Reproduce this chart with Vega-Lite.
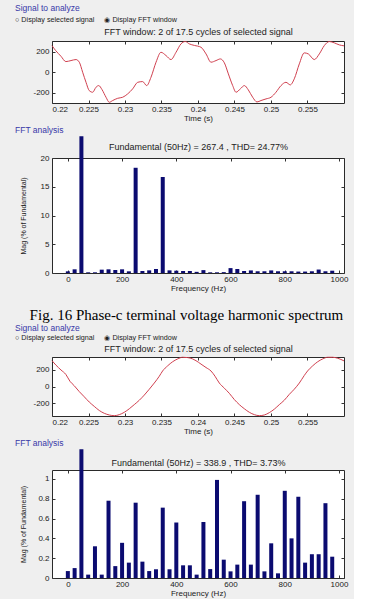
{
  "$schema": "https://vega.github.io/schema/vega-lite/v6.json",
  "background": "#efefef",
  "padding": {"left": 14, "top": 3, "right": 5, "bottom": 2},
  "config": {
    "font": "Liberation Sans",
    "view": {"stroke": "#2a2a2a", "fill": "white", "strokeWidth": 1},
    "axis": {"labelFontSize": 8, "labelColor": "#222", "titleColor": "#222", "tickColor": "#333", "titleFontWeight": "normal", "titleFontSize": 8, "grid": false, "domain": false, "tickSize": -3, "labelPadding": 3},
    "axisX": {"labelPadding": 5},
    "axisY": {"labelPadding": 6},
    "title": {"fontWeight": "normal"}
  },
  "datasets": {
    "sig1": [
      {"t": 0.22, "v": 260}, {"t": 0.2205, "v": 212}, {"t": 0.22123, "v": 156}, {"t": 0.2219, "v": 104}, {"t": 0.2226, "v": 114}, {"t": 0.22329, "v": 124}, {"t": 0.22374, "v": 98}, {"t": 0.2242, "v": 0}, {"t": 0.22466, "v": -98}, {"t": 0.2251, "v": -179}, {"t": 0.22557, "v": -195}, {"t": 0.22603, "v": -146}, {"t": 0.2264, "v": -130}, {"t": 0.22685, "v": -169}, {"t": 0.2274, "v": -244}, {"t": 0.22785, "v": -293}, {"t": 0.22831, "v": -276}, {"t": 0.229, "v": -254}, {"t": 0.22968, "v": -244}, {"t": 0.23037, "v": -211}, {"t": 0.23105, "v": -162}, {"t": 0.23174, "v": -98}, {"t": 0.23242, "v": -91}, {"t": 0.23297, "v": -130}, {"t": 0.23356, "v": -49}, {"t": 0.23425, "v": 98}, {"t": 0.23493, "v": 195}, {"t": 0.23562, "v": 163}, {"t": 0.2363, "v": 124}, {"t": 0.23699, "v": 195}, {"t": 0.23767, "v": 277}, {"t": 0.23826, "v": 300}, {"t": 0.2388, "v": 277}, {"t": 0.2395, "v": 262}, {"t": 0.24041, "v": 244}, {"t": 0.2411, "v": 179}, {"t": 0.24178, "v": 98}, {"t": 0.24247, "v": 114}, {"t": 0.24306, "v": 130}, {"t": 0.24361, "v": 92}, {"t": 0.24416, "v": -16}, {"t": 0.24475, "v": -130}, {"t": 0.24521, "v": -195}, {"t": 0.2458, "v": -162}, {"t": 0.24635, "v": -130}, {"t": 0.24689, "v": -172}, {"t": 0.24749, "v": -244}, {"t": 0.24808, "v": -290}, {"t": 0.24863, "v": -276}, {"t": 0.24932, "v": -260}, {"t": 0.25, "v": -244}, {"t": 0.25068, "v": -195}, {"t": 0.25137, "v": -130}, {"t": 0.25205, "v": -98}, {"t": 0.25264, "v": -123}, {"t": 0.25319, "v": -64}, {"t": 0.25388, "v": 82}, {"t": 0.25456, "v": 189}, {"t": 0.25511, "v": 179}, {"t": 0.25593, "v": 124}, {"t": 0.25662, "v": 179}, {"t": 0.2573, "v": 260}, {"t": 0.25799, "v": 300}, {"t": 0.25867, "v": 287}, {"t": 0.25936, "v": 267}, {"t": 0.26, "v": 258}
    ],
    "sig2": [
      {"t": 0.22, "v": 306}, {"t": 0.22055, "v": 253}, {"t": 0.22123, "v": 196}, {"t": 0.2219, "v": 143}, {"t": 0.22247, "v": 61}, {"t": 0.22305, "v": 9}, {"t": 0.22374, "v": -61}, {"t": 0.22442, "v": -122}, {"t": 0.2251, "v": -184}, {"t": 0.22579, "v": -236}, {"t": 0.22648, "v": -285}, {"t": 0.22716, "v": -318}, {"t": 0.22785, "v": -338}, {"t": 0.22853, "v": -346}, {"t": 0.22922, "v": -334}, {"t": 0.2299, "v": -306}, {"t": 0.23059, "v": -264}, {"t": 0.23127, "v": -215}, {"t": 0.23196, "v": -163}, {"t": 0.23264, "v": -102}, {"t": 0.23333, "v": -32}, {"t": 0.23401, "v": 41}, {"t": 0.2347, "v": 122}, {"t": 0.23515, "v": 184}, {"t": 0.23584, "v": 245}, {"t": 0.23653, "v": 294}, {"t": 0.23721, "v": 327}, {"t": 0.2379, "v": 347}, {"t": 0.23858, "v": 343}, {"t": 0.23927, "v": 327}, {"t": 0.23973, "v": 306}, {"t": 0.24041, "v": 266}, {"t": 0.2411, "v": 225}, {"t": 0.24178, "v": 184}, {"t": 0.24233, "v": 122}, {"t": 0.24292, "v": 41}, {"t": 0.24361, "v": -20}, {"t": 0.24429, "v": -81}, {"t": 0.24497, "v": -154}, {"t": 0.24566, "v": -215}, {"t": 0.24635, "v": -264}, {"t": 0.24703, "v": -306}, {"t": 0.24772, "v": -334}, {"t": 0.2484, "v": -346}, {"t": 0.24908, "v": -338}, {"t": 0.24977, "v": -310}, {"t": 0.25045, "v": -269}, {"t": 0.25114, "v": -215}, {"t": 0.25182, "v": -163}, {"t": 0.25251, "v": -93}, {"t": 0.25319, "v": -32}, {"t": 0.25388, "v": 41}, {"t": 0.25456, "v": 131}, {"t": 0.25501, "v": 184}, {"t": 0.25571, "v": 245}, {"t": 0.2564, "v": 294}, {"t": 0.25708, "v": 327}, {"t": 0.25777, "v": 347}, {"t": 0.25845, "v": 347}, {"t": 0.25914, "v": 335}, {"t": 0.26, "v": 304}
    ],
    "fft1": [
      {"f": 0, "m": 0.29}, {"f": 25, "m": 0.64}, {"f": 50, "m": 23.8}, {"f": 75, "m": 0.12}, {"f": 100, "m": 0.12}, {"f": 125, "m": 0.58}, {"f": 150, "m": 0.64}, {"f": 175, "m": 0.52}, {"f": 200, "m": 0.64}, {"f": 225, "m": 0.29}, {"f": 250, "m": 18.3}, {"f": 275, "m": 0.35}, {"f": 300, "m": 0.46}, {"f": 325, "m": 0.7}, {"f": 350, "m": 16.7}, {"f": 375, "m": 0.46}, {"f": 400, "m": 0.4}, {"f": 425, "m": 0.35}, {"f": 450, "m": 0.35}, {"f": 475, "m": 0.2}, {"f": 500, "m": 0.5}, {"f": 525, "m": 0.12}, {"f": 550, "m": 0.12}, {"f": 575, "m": 0.15}, {"f": 600, "m": 0.85}, {"f": 625, "m": 0.7}, {"f": 650, "m": 0.35}, {"f": 675, "m": 0.45}, {"f": 700, "m": 0.3}, {"f": 725, "m": 0.3}, {"f": 750, "m": 0.45}, {"f": 775, "m": 0.3}, {"f": 800, "m": 0.3}, {"f": 825, "m": 0.3}, {"f": 850, "m": 0.25}, {"f": 875, "m": 0.25}, {"f": 900, "m": 0.3}, {"f": 925, "m": 0.6}, {"f": 950, "m": 0.3}, {"f": 975, "m": 0.4}
    ],
    "fft2": [
      {"f": 0, "m": 0.07}, {"f": 25, "m": 0.1}, {"f": 50, "m": 1.3}, {"f": 75, "m": 0.034}, {"f": 100, "m": 0.32}, {"f": 125, "m": 0.034}, {"f": 150, "m": 0.78}, {"f": 175, "m": 0.12}, {"f": 200, "m": 0.355}, {"f": 225, "m": 0.155}, {"f": 250, "m": 0.76}, {"f": 275, "m": 0.165}, {"f": 300, "m": 0.07}, {"f": 325, "m": 0.088}, {"f": 350, "m": 0.71}, {"f": 375, "m": 0.088}, {"f": 400, "m": 0.56}, {"f": 425, "m": 0.128}, {"f": 450, "m": 0.128}, {"f": 475, "m": 0.034}, {"f": 500, "m": 0.565}, {"f": 525, "m": 0.09}, {"f": 550, "m": 0.99}, {"f": 575, "m": 0.185}, {"f": 600, "m": 0.067}, {"f": 625, "m": 0.135}, {"f": 650, "m": 0.775}, {"f": 675, "m": 0.135}, {"f": 700, "m": 0.84}, {"f": 725, "m": 0.067}, {"f": 750, "m": 0.35}, {"f": 775, "m": 0.047}, {"f": 800, "m": 0.88}, {"f": 825, "m": 0.4}, {"f": 850, "m": 0.82}, {"f": 875, "m": 0.155}, {"f": 900, "m": 0.24}, {"f": 925, "m": 0.24}, {"f": 950, "m": 0.755}, {"f": 975, "m": 0.215}
    ]
  },
  "spacing": 15,
  "vconcat": [
    {
      "spacing": 2,
      "vconcat": [
        {
          "width": 292, "height": 62,
          "data": {"name": "sig1"},
          "title": {"text": "\u00a0\u00a0\u00a0\u00a0\u00a0Signal to analyze", "subtitle": "\u25cb Display selected signal\u00a0\u00a0\u00a0\u00a0\u00a0\u25c9 Display FFT window", "anchor": "start", "frame": "bounds", "fontSize": 8.5, "color": "#3838a8", "subtitleFontSize": 7.2, "subtitleColor": "#222", "subtitlePadding": 4, "offset": 4, "dx": -4},
          "layer": [
            {
              "mark": {"type": "line", "color": "#d0404f", "strokeWidth": 1, "interpolate": "monotone"},
              "encoding": {
                "x": {"field": "t", "type": "quantitative", "scale": {"domain": [0.22, 0.26], "nice": false, "zero": false}, "axis": {"values": [0.22, 0.225, 0.23, 0.235, 0.24, 0.245, 0.25, 0.255], "format": ".3~f", "title": "Time (s)", "titlePadding": 1}},
                "y": {"field": "v", "type": "quantitative", "scale": {"domain": [-300, 305], "nice": false, "zero": false}, "axis": {"values": [-200, 0, 200], "labelExpr": "datum.value < 0 ? '-' + abs(datum.value) : '' + datum.value", "title": "\u00a0", "titleFontSize": 7, "minExtent": 22, "titlePadding": 4}}
              }
            },
            {
              "transform": [{"filter": "false"}],
              "mark": {"type": "line"},
              "encoding": {
                "x": {"field": "t", "type": "quantitative", "axis": {"orient": "top", "labels": false, "values": [0.22, 0.225, 0.23, 0.235, 0.24, 0.245, 0.25, 0.255], "title": "FFT window: 2 of 17.5 cycles of selected signal", "titleFontSize": 9, "titlePadding": 4}},
                "y": {"field": "v", "type": "quantitative", "axis": {"orient": "right", "labels": false, "values": [-200, 0, 200], "title": null}}
              }
            }
          ],
          "resolve": {"axis": {"x": "independent", "y": "independent"}}
        },
        {
          "width": 292, "height": 115,
          "data": {"name": "fft1"},
          "title": {"text": "FFT analysis", "anchor": "start", "frame": "bounds", "fontSize": 8.5, "color": "#3838a8", "offset": 2, "dx": -4},
          "layer": [
            {
              "mark": {"type": "bar", "color": "#0b0b70", "size": 4, "clip": false},
              "encoding": {
                "x": {"field": "f", "type": "quantitative", "scale": {"domain": [-40, 1000], "nice": false, "zero": false}, "axis": {"values": [0, 200, 400, 600, 800, 1000], "format": "d", "title": "Frequency (Hz)", "titlePadding": 1}},
                "y": {"field": "m", "type": "quantitative", "scale": {"domain": [0, 20], "nice": false}, "axis": {"values": [0, 5, 10, 15, 20], "title": "Mag (% of Fundamental)", "titleFontSize": 7, "minExtent": 22, "titlePadding": 4}}
              }
            },
            {
              "transform": [{"filter": "false"}],
              "mark": {"type": "bar"},
              "encoding": {
                "x": {"field": "f", "type": "quantitative", "axis": {"orient": "top", "labels": false, "values": [0, 200, 400, 600, 800, 1000], "title": "Fundamental (50Hz) = 267.4 , THD= 24.77%", "titleFontSize": 9, "titlePadding": 6}},
                "y": {"field": "m", "type": "quantitative", "axis": {"orient": "right", "labels": false, "values": [0, 5, 10, 15, 20], "title": null}}
              }
            }
          ],
          "resolve": {"axis": {"x": "independent", "y": "independent"}}
        }
      ]
    },
    {
      "spacing": 2,
      "title": {"text": "Fig. 16 Phase-c terminal voltage harmonic spectrum", "font": "Liberation Serif", "fontSize": 15, "color": "#000", "anchor": "middle", "frame": "bounds", "offset": 0, "dx": 5},
      "vconcat": [
        {
          "width": 292, "height": 59,
          "data": {"name": "sig2"},
          "title": {"text": "\u00a0\u00a0\u00a0\u00a0\u00a0Signal to analyze", "subtitle": "\u25cb Display selected signal\u00a0\u00a0\u00a0\u00a0\u00a0\u25c9 Display FFT window", "anchor": "start", "frame": "bounds", "fontSize": 8.5, "color": "#3838a8", "subtitleFontSize": 7.2, "subtitleColor": "#222", "subtitlePadding": 2, "offset": 3, "dx": -4},
          "layer": [
            {
              "mark": {"type": "line", "color": "#d0404f", "strokeWidth": 1, "interpolate": "monotone"},
              "encoding": {
                "x": {"field": "t", "type": "quantitative", "scale": {"domain": [0.22, 0.26], "nice": false, "zero": false}, "axis": {"values": [0.22, 0.225, 0.23, 0.235, 0.24, 0.245, 0.25, 0.255], "format": ".3~f", "title": "Time (s)", "titlePadding": 1}},
                "y": {"field": "v", "type": "quantitative", "scale": {"domain": [-350, 350], "nice": false, "zero": false}, "axis": {"values": [-200, 0, 200], "labelExpr": "datum.value < 0 ? '-' + abs(datum.value) : '' + datum.value", "title": "\u00a0", "titleFontSize": 7, "minExtent": 22, "titlePadding": 4}}
              }
            },
            {
              "transform": [{"filter": "false"}],
              "mark": {"type": "line"},
              "encoding": {
                "x": {"field": "t", "type": "quantitative", "axis": {"orient": "top", "labels": false, "values": [0.22, 0.225, 0.23, 0.235, 0.24, 0.245, 0.25, 0.255], "title": "FFT window: 2 of 17.5 cycles of selected signal", "titleFontSize": 9, "titlePadding": 3}},
                "y": {"field": "v", "type": "quantitative", "axis": {"orient": "right", "labels": false, "values": [-200, 0, 200], "title": null}}
              }
            }
          ],
          "resolve": {"axis": {"x": "independent", "y": "independent"}}
        },
        {
          "width": 292, "height": 108,
          "data": {"name": "fft2"},
          "title": {"text": "FFT analysis", "anchor": "start", "frame": "bounds", "fontSize": 8.5, "color": "#3838a8", "offset": 2, "dx": -4},
          "layer": [
            {
              "mark": {"type": "bar", "color": "#0b0b70", "size": 4, "clip": false},
              "encoding": {
                "x": {"field": "f", "type": "quantitative", "scale": {"domain": [-40, 1000], "nice": false, "zero": false}, "axis": {"values": [0, 200, 400, 600, 800, 1000], "format": "d", "title": "Frequency (Hz)", "titlePadding": 1}},
                "y": {"field": "m", "type": "quantitative", "scale": {"domain": [0, 1.09], "nice": false}, "axis": {"values": [0, 0.2, 0.4, 0.6, 0.8, 1], "format": "~g", "title": "Mag (% of Fundamental)", "titleFontSize": 7, "minExtent": 22, "titlePadding": 4}}
              }
            },
            {
              "transform": [{"filter": "false"}],
              "mark": {"type": "bar"},
              "encoding": {
                "x": {"field": "f", "type": "quantitative", "axis": {"orient": "top", "labels": false, "values": [0, 200, 400, 600, 800, 1000], "title": "Fundamental (50Hz) = 338.9 , THD= 3.73%", "titleFontSize": 9, "titlePadding": 2}},
                "y": {"field": "m", "type": "quantitative", "axis": {"orient": "right", "labels": false, "values": [0, 0.2, 0.4, 0.6, 0.8, 1], "title": null}}
              }
            }
          ],
          "resolve": {"axis": {"x": "independent", "y": "independent"}}
        }
      ]
    }
  ]
}
